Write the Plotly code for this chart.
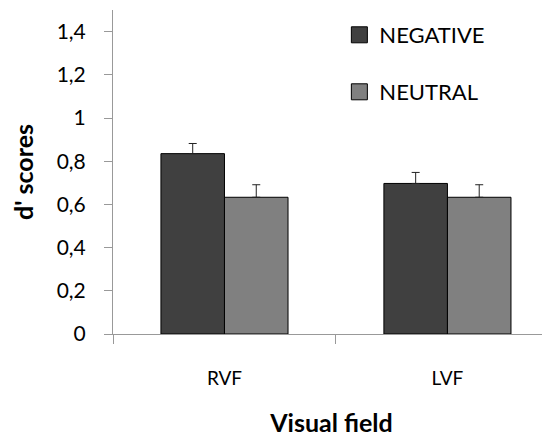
import plotly.graph_objects as go

categories = ["RVF", "LVF"]
negative = [0.835, 0.697]
neutral = [0.633, 0.633]
negative_err = [0.047, 0.051]
neutral_err = [0.058, 0.058]
series_names = ["NEGATIVE", "NEUTRAL"]
colors = ["#404040", "#808080"]

FONT = "Lato"

fig = go.Figure()
for name, vals, errs, col, lg in zip(series_names, [negative, neutral],
                                     [negative_err, neutral_err], colors,
                                     ["legend", "legend2"]):
    fig.add_trace(go.Bar(
        x=categories, y=vals, name=name, showlegend=False,
        marker=dict(color=col, line=dict(color="#000000", width=1)),
        error_y=dict(type="data", array=errs, arrayminus=[0] * len(errs),
                     symmetric=False, color="#222222", thickness=1, width=4),
    ))
    fig.add_trace(go.Scatter(
        x=[None], y=[None], mode="markers", name=name, legend=lg,
        marker=dict(symbol="square", size=16, color=col,
                    line=dict(color="#000000", width=1)),
    ))

# page body adds an 8px offset, so the figure is sized to fit the window
fig.update_layout(
    width=542, height=429,
    margin=dict(l=105, r=0, t=2, b=103),
    paper_bgcolor="white", plot_bgcolor="white",
    separators=", ",
    font=dict(family=FONT, size=19, color="#000000"),
    bargap=0.43, bargroupgap=0,
    barmode="group",
    legend=dict(x=0.518, y=(326 - 27) / 324.0, xref="paper", yref="paper",
                xanchor="left", yanchor="middle", bgcolor="rgba(0,0,0,0)",
                font=dict(family=FONT, size=22)),
    legend2=dict(x=0.518, y=(326 - 84) / 324.0, xref="paper", yref="paper",
                 xanchor="left", yanchor="middle", bgcolor="rgba(0,0,0,0)",
                 font=dict(family=FONT, size=22)),
)

fig.update_xaxes(
    type="category", range=[-0.5, 1.46], automargin=False,
    showline=True, linecolor="#999999", linewidth=1,
    ticks="outside", tickson="boundaries", ticklen=9, tickcolor="#999999",
    tickfont=dict(family=FONT, size=19), ticklabelstandoff=27,
    showgrid=False, zeroline=False,
    title=dict(text="<b>Visual field</b>", font=dict(family=FONT, size=25), standoff=34),
)
fig.update_yaxes(
    range=[0, 1.5], dtick=0.2, tick0=0, automargin=False,
    showline=True, linecolor="#999999", linewidth=1,
    ticks="outside", ticklen=8, tickcolor="#999999",
    tickfont=dict(family=FONT, size=21), ticklabelstandoff=14,
    showgrid=False, zeroline=False,
    title=dict(text="<b>d' scores</b>", font=dict(family=FONT, size=25), standoff=17),
)

fig.write_html("out.html")
